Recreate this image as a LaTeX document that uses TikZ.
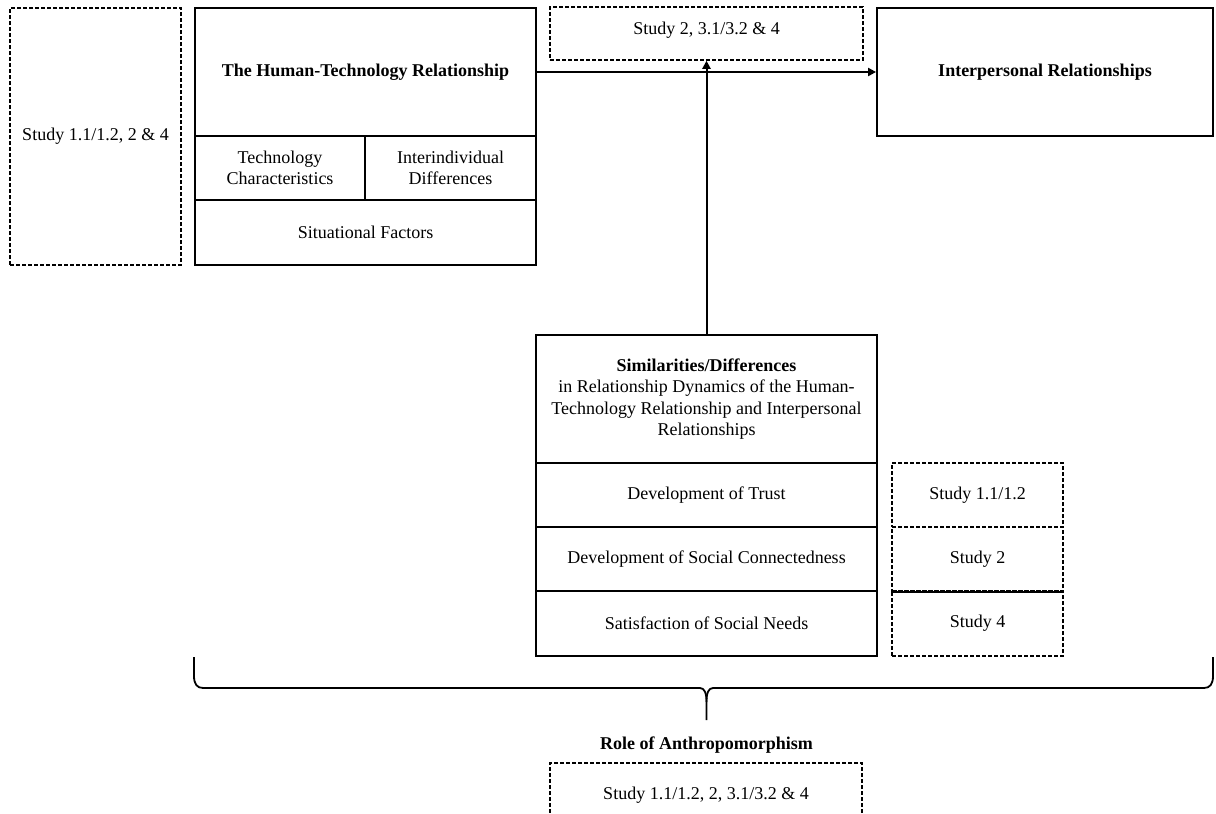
\documentclass[tikz,border=0pt]{standalone}
\usepackage{fontspec}
\setmainfont{Liberation Serif}
\usetikzlibrary{arrows.meta}
\begin{document}
\begin{tikzpicture}[x=0.5pt,y=-0.5pt,
  every node/.style={font=\fontsize{9pt}{10.8pt}\selectfont, align=center, inner sep=0pt},
  sz/.style 2 args={minimum width={#1*0.5pt}, minimum height={#2*0.5pt}},
  solidbox/.style={draw, rectangle, line width=0.9pt},
  dashbox/.style={draw, rectangle, line width=0.75pt, dash pattern=on 2pt off 1pt},
  flow/.style={line width=1pt, -{Triangle[length=4pt,width=4pt]}},
  bracepath/.style={line width=0.9pt, line join=round},
]
\useasboundingbox (0,0) rectangle (1216,814);
\clip (0,0) rectangle (1216,814);

% left study box
\node[dashbox, sz={171}{257}] (studyL) at (95.5,136.5) {Study 1.1/1.2, 2 \& 4};

% the human-technology relationship block
\node[solidbox, sz={341}{128}] (htr) at (365.5,72) {\textbf{The Human-Technology Relationship}};
\node[solidbox, sz={170}{64}] (tech) at (280,168) {Technology\\Characteristics};
\node[solidbox, sz={171}{64}] (indiv) at (450.5,168) {Interindividual\\Differences};
\node[solidbox, sz={341}{65}] (sit) at (365.5,232.5) {Situational Factors};

% studies above the arrow
\node[dashbox, sz={313}{53}, text depth=5.5pt] (s234) at (706.5,33.5) {Study 2, 3.1/3.2 \& 4};

% interpersonal relationships
\node[solidbox, sz={336}{128}] (ipr) at (1045,72) {\textbf{Interpersonal Relationships}};

% similarities / differences block
\node[solidbox, sz={341}{128}] (sim) at (706.5,399) {\textbf{Similarities/Differences}\\in Relationship Dynamics of the Human-\\Technology Relationship and Interpersonal\\Relationships};
\node[solidbox, sz={341}{64}] (dtrust) at (706.5,495) {Development of Trust};
\node[solidbox, sz={341}{64}] (dsocial) at (706.5,559) {Development of Social Connectedness};
\node[solidbox, sz={341}{65}] (dneeds) at (706.5,623.5) {Satisfaction of Social Needs};

% studies per dynamic
\node[dashbox, sz={171}{64}] (st1) at (977.5,495) {Study 1.1/1.2};
\node[dashbox, sz={171}{64}] (st2) at (977.5,559) {Study 2};
\node[dashbox, sz={171}{65}] (st4) at (977.5,623.5) {Study 4};
\draw[line width=0.75pt] (st2.south west) -- (st2.south east);

% connectors
\draw[flow] (htr.east) -- (ipr.west);
\draw[flow] (sim.north) -- (s234.south);

% brace over the whole model
\coordinate (bl) at (194,657);
\coordinate (br) at (1213,657);
\coordinate (btip) at (706.5,720);
\draw[bracepath] (bl) -- (194,676) .. controls (194,684) and (197,688) .. (203,688)
  -- (700,688) .. controls (704.5,688) and (706.5,693) .. (706.5,702) -- (btip);
\draw[bracepath] (br) -- (1213,676) .. controls (1213,684) and (1210,688) .. (1204,688)
  -- (713,688) .. controls (708.5,688) and (706.5,693) .. (706.5,702);

% role of anthropomorphism
\node (role) at (706.5,745) {\textbf{Role of Anthropomorphism}};
\node[dashbox, sz={312}{68}, text depth=3.5pt] (sbot) at (706,797) {Study 1.1/1.2, 2, 3.1/3.2 \& 4};
\end{tikzpicture}
\end{document}
